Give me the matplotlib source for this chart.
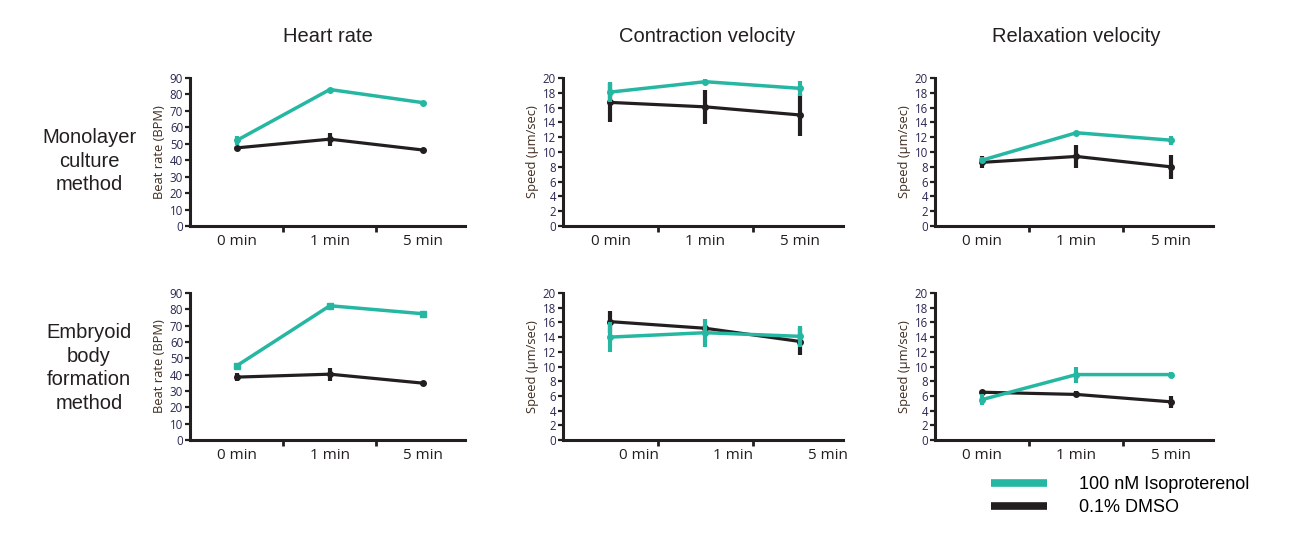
import matplotlib
matplotlib.use("Agg")
import matplotlib.pyplot as plt
from matplotlib.lines import Line2D
from matplotlib.transforms import ScaledTranslation

# ---------------- data ----------------
timepoints = ["0 min", "1 min", "5 min"]
col_titles = ["Heart rate", "Contraction velocity", "Relaxation velocity"]
row_labels = ["Monolayer\nculture\nmethod", "Embryoid\nbody\nformation\nmethod"]
ylabels = ["Beat rate (BPM)", "Speed (\u00b5m/sec)", "Speed (\u00b5m/sec)"]
series_names = ["100 nM Isoproterenol", "0.1% DMSO"]

hr_mono_iso = [52.0, 83.0, 75.0]
hr_mono_iso_err = [3.0, 0.8, 1.2]
hr_mono_dmso = [47.5, 52.8, 46.2]
hr_mono_dmso_err = [1.0, 4.0, 0.8]

cv_mono_iso = [18.1, 19.5, 18.6]
cv_mono_iso_err = [1.3, 0.3, 1.0]
cv_mono_dmso = [16.7, 16.1, 15.0]
cv_mono_dmso_err = [2.6, 2.3, 2.9]

rv_mono_iso = [8.9, 12.6, 11.6]
rv_mono_iso_err = [0.4, 0.2, 0.6]
rv_mono_dmso = [8.6, 9.4, 8.0]
rv_mono_dmso_err = [0.8, 1.5, 1.6]

hr_eb_iso = [45.4, 82.2, 77.3]
hr_eb_iso_err = [0.8, 1.0, 1.0]
hr_eb_dmso = [38.5, 40.3, 34.8]
hr_eb_dmso_err = [2.5, 4.0, 1.5]

cv_eb_iso = [14.0, 14.6, 14.1]
cv_eb_iso_err = [2.0, 1.9, 1.4]
cv_eb_dmso = [16.1, 15.2, 13.4]
cv_eb_dmso_err = [1.5, 0.5, 1.8]

rv_eb_iso = [5.5, 8.9, 8.9]
rv_eb_iso_err = [0.8, 1.1, 0.3]
rv_eb_dmso = [6.5, 6.2, 5.2]
rv_eb_dmso_err = [0.3, 0.4, 0.8]

panels = [
    [(hr_mono_iso, hr_mono_iso_err, hr_mono_dmso, hr_mono_dmso_err),
     (cv_mono_iso, cv_mono_iso_err, cv_mono_dmso, cv_mono_dmso_err),
     (rv_mono_iso, rv_mono_iso_err, rv_mono_dmso, rv_mono_dmso_err)],
    [(hr_eb_iso, hr_eb_iso_err, hr_eb_dmso, hr_eb_dmso_err),
     (cv_eb_iso, cv_eb_iso_err, cv_eb_dmso, cv_eb_dmso_err),
     (rv_eb_iso, rv_eb_iso_err, rv_eb_dmso, rv_eb_dmso_err)],
]
ylims = [90, 20, 20]
ysteps = [10, 2, 2]

# ---------------- style ----------------
TEAL = "#26b7a3"
BLACK = "#231f20"
TICKCOL = "#2a2752"
YLABCOL = "#3f2c1e"
W, H = 1302, 535

fig = plt.figure(figsize=(W / 100, H / 100), dpi=100)
fig.patch.set_facecolor("white")

col_px = [(190, 275), (563, 280), (935, 278)]
row_px = [(78, 226), (293, 440)]

for r in range(2):
    top, bot = row_px[r]
    for c in range(3):
        left, width = col_px[c]
        ax = fig.add_axes([left / W, 1 - bot / H, width / W, (bot - top) / H])
        iso, iso_e, dm, dm_e = panels[r][c]
        x = list(range(len(timepoints)))
        ax.errorbar(x, dm, yerr=dm_e, color=BLACK, lw=2.3, elinewidth=3.0,
                    capsize=0, marker="o", ms=4, zorder=3)
        ax.errorbar(x, iso, yerr=iso_e, color=TEAL, lw=2.5, elinewidth=3.0,
                    capsize=0, marker="s" if (r == 1 and c == 0) else "o",
                    ms=4, zorder=4)
        ax.set_xlim(-0.5, 2.45)
        ax.set_ylim(0, ylims[c])
        ax.set_yticks(range(0, ylims[c] + 1, ysteps[c]))
        ax.set_xticks([0.5, 1.5])
        ax.set_xticklabels([])
        ax.set_xticks(x, minor=True)
        ax.set_xticklabels(timepoints, minor=True, fontsize=11,
                           family="Open Sans", color=BLACK)
        ax.tick_params(axis="x", which="minor", length=0, pad=6)
        ax.tick_params(axis="x", which="major", length=4, width=2,
                       direction="out", color=BLACK)
        ax.tick_params(axis="y", length=3.5, width=1.6, direction="out",
                       color=BLACK, labelsize=8.3, labelcolor=TICKCOL, pad=1.5)
        for lab in ax.get_yticklabels():
            lab.set_family("Open Sans")
        for s in ["top", "right"]:
            ax.spines[s].set_visible(False)
        for s in ["left", "bottom"]:
            ax.spines[s].set_linewidth(2.2)
            ax.spines[s].set_color(BLACK)
        ax.set_ylabel(ylabels[c], fontsize=9.3, family="Open Sans",
                      color=YLABCOL, labelpad=3)
        if r == 1 and c == 1:
            off = ScaledTranslation(0.28, 0, fig.dpi_scale_trans)
            for lab in ax.get_xticklabels(minor=True):
                lab.set_transform(lab.get_transform() + off)

# column titles
title_x = [328, 707, 1076]
for c in range(3):
    fig.text(title_x[c] / W, 1 - 37 / H, col_titles[c], ha="center",
             va="center", fontsize=14.5, family="Liberation Sans", color=BLACK)

# row labels
row_y = [161, 368]
for r in range(2):
    fig.text(89 / W, 1 - row_y[r] / H, row_labels[r], ha="center",
             va="center", multialignment="center", linespacing=1.32,
             fontsize=14.5, family="Liberation Sans", color=BLACK)

# legend
handles = [Line2D([], [], color=TEAL, lw=5.5, solid_capstyle="butt"),
           Line2D([], [], color=BLACK, lw=5.5, solid_capstyle="butt")]
fig.legend(handles, series_names, loc="center left",
           bbox_to_anchor=(991 / W, 1 - 496 / H), frameon=False,
           borderpad=0, borderaxespad=0, handlelength=3.1,
           handletextpad=1.8, labelspacing=0.32,
           prop={"family": "Liberation Sans", "size": 13})

fig.savefig("out.png", dpi=100)
